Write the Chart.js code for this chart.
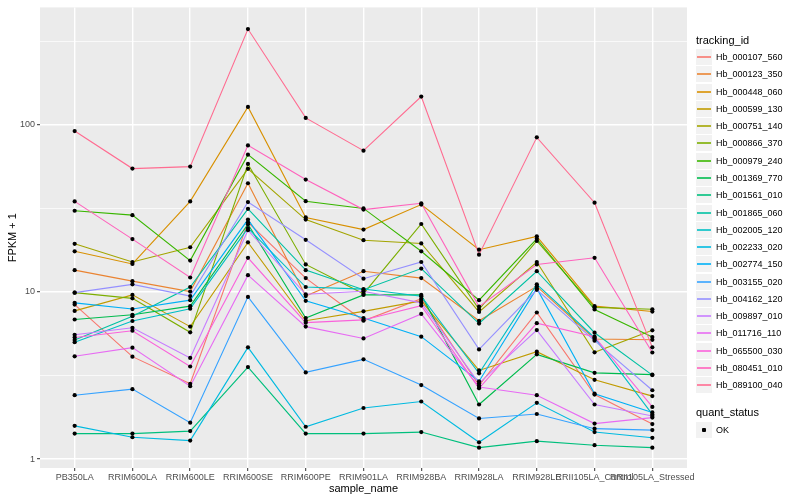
<!DOCTYPE html>
<html>
<head>
<meta charset="utf-8">
<script src="https://cdn.jsdelivr.net/npm/chart.js@4/dist/chart.umd.min.js"></script>
<style>
  body { margin: 0; background: #fff; font-family: "Liberation Sans", Arial, sans-serif; }
  #wrap { position: relative; width: 800px; height: 500px; }
  #legend { position: absolute; left: 696px; top: 0; width: 104px; height: 500px; }
  .ltitle { position: absolute; left: 0; font-size: 11px; color: #000; line-height: 13px; }
  .lrow { position: absolute; left: 0; height: 16px; display: flex; align-items: center; }
  .lkey { position: relative; width: 16px; height: 16px; background: #f2f2f2; margin-right: 4px; }
  .lline { position: absolute; left: 1px; right: 1px; top: 7px; height: 2px; opacity: 0.8; }
  .ldot { position: absolute; left: 6px; top: 6px; width: 4px; height: 4px; background: #000; border-radius: 1px; }
  .ltext { font-size: 9px; color: #000; }
</style>
</head>
<body>
<div id="wrap">
  <canvas id="chart" width="800" height="500"></canvas>
  <div id="legend"></div>
</div>
<script>
// sample names on the x axis
const samples = ['PB350LA', 'RRIM600LA', 'RRIM600LE', 'RRIM600SE', 'RRIM600PE', 'RRIM901LA',
                 'RRIM928BA', 'RRIM928LA', 'RRIM928LE', 'RRII105LA_Control', 'RRII105LA_Stressed'];

// one FPKM + 1 series per tracking id
const hb000107_560 = [8.4, 4.1, 2.82, 26.1, 12.1, 6.72, 9.1, 2.76, 7.53, 2.43, 1.62];
const hb000123_350 = [13.5, 11.6, 10.05, 44.7, 9.45, 13.3, 12.1, 6.72, 10.8, 5.23, 5.17];
const hb000448_060 = [17.5, 14.7, 34.8, 128, 27.9, 23.6, 33.3, 17.9, 21.5, 8.22, 7.63];
const hb000599_130 = [7.7, 9.6, 6.2, 19.8, 6.72, 7.65, 8.84, 3.39, 4.39, 2.98, 2.38];
const hb000751_140 = [19.4, 15.1, 18.5, 54.5, 27.1, 20.4, 19.5, 7.59, 15.1, 4.35, 5.89];
const hb000866_370 = [9.9, 9.15, 5.73, 58.3, 14.6, 9.76, 25.5, 7.87, 20.2, 8.08, 7.87];
const hb000979_240 = [30.6, 28.8, 15.4, 66.3, 34.9, 31.6, 17.5, 8.93, 20.8, 7.85, 5.37];
const hb001369_770 = [6.84, 7.3, 8.22, 25.4, 6.98, 9.6, 9.6, 2.12, 4.23, 3.28, 3.2];
const hb001561_010 = [1.42, 1.42, 1.47, 3.55, 1.42, 1.42, 1.45, 1.17, 1.28, 1.21, 1.17];
const hb001865_060 = [5.16, 7.16, 10.7, 31.4, 13.5, 10.3, 13.8, 6.47, 13.3, 5.7, 3.18];
const hb002005_120 = [5.0, 6.7, 7.94, 24.1, 10.7, 10.4, 9.43, 3.26, 11.1, 5.32, 1.85];
const hb002233_020 = [1.58, 1.35, 1.29, 4.66, 1.56, 2.02, 2.21, 1.26, 2.17, 1.45, 1.34];
const hb002774_150 = [8.6, 7.9, 8.93, 27.1, 8.84, 6.98, 5.4, 2.92, 10.5, 2.46, 1.9];
const hb003155_020 = [2.41, 2.62, 1.65, 9.34, 3.3, 3.95, 2.77, 1.75, 1.86, 1.52, 1.49];
const hb004162_120 = [9.9, 11.1, 9.45, 34.5, 20.5, 12.0, 15.1, 4.53, 10.3, 5.11, 2.58];
const hb009897_010 = [5.54, 6.1, 4.03, 23.4, 9.68, 10.1, 8.6, 2.84, 5.91, 2.12, 1.81];
const hb011716_110 = [4.12, 4.64, 2.73, 12.6, 6.2, 5.27, 7.38, 2.7, 2.41, 1.63, 1.77];
const hb065500_030 = [5.34, 5.86, 3.58, 16.0, 6.55, 6.8, 8.28, 2.65, 6.5, 5.4, 2.05];
const hb080451_010 = [34.8, 20.7, 12.2, 75.3, 47, 31.1, 33.9, 8.17, 14.6, 16.0, 4.34];
const hb089100_040 = [91.7, 54.7, 56.2, 374, 110, 70, 147.5, 16.7, 84.1, 34.2, 4.66];

const trackingIds = ['Hb_000107_560', 'Hb_000123_350', 'Hb_000448_060', 'Hb_000599_130', 'Hb_000751_140',
                     'Hb_000866_370', 'Hb_000979_240', 'Hb_001369_770', 'Hb_001561_010', 'Hb_001865_060',
                     'Hb_002005_120', 'Hb_002233_020', 'Hb_002774_150', 'Hb_003155_020', 'Hb_004162_120',
                     'Hb_009897_010', 'Hb_011716_110', 'Hb_065500_030', 'Hb_080451_010', 'Hb_089100_040'];
const seriesValues = [hb000107_560, hb000123_350, hb000448_060, hb000599_130, hb000751_140,
                      hb000866_370, hb000979_240, hb001369_770, hb001561_010, hb001865_060,
                      hb002005_120, hb002233_020, hb002774_150, hb003155_020, hb004162_120,
                      hb009897_010, hb011716_110, hb065500_030, hb080451_010, hb089100_040];

// y axis ticks (log scale)
const yMajorTicks = [1, 10, 100];
const yMinorTicks = [3.1623, 31.623, 316.23];
const yTickLabels = ['1', '10', '100'];

// ggplot default hue palette for 20 groups
const colors = ['#F8766D', '#EA8331', '#D89000', '#C09B00', '#A3A500', '#7CAE00', '#39B600', '#00BB4E',
                '#00BF7D', '#00C1A3', '#00BFC4', '#00BAE0', '#00B0F6', '#35A2FF', '#9590FF', '#C77CFF',
                '#E76BF3', '#FA62DB', '#FF62BC', '#FF6C91'];

const toPoints = vals => vals.map((v, i) => ({ x: i, y: v }));

const datasets = [];
seriesValues.forEach((vals, i) => {
    datasets.push({
        label: trackingIds[i],
        data: toPoints(vals),
        borderColor: colors[i],
        borderWidth: 1.1,
        pointRadius: 0,
        tension: 0,
        order: 100 - i
    });
});
// points are drawn above every line, as in the original
seriesValues.forEach((vals, i) => {
    datasets.push({
        label: 'OK ' + trackingIds[i],
        data: toPoints(vals),
        showLine: false,
        pointRadius: 2.1,
        pointBackgroundColor: '#000',
        pointBorderColor: '#000',
        pointBorderWidth: 0,
        order: 0
    });
});

// grey panel like ggplot
const panelBg = {
    id: 'panelBg',
    beforeDraw(chart) {
        const a = chart.chartArea;
        const ctx = chart.ctx;
        ctx.save();
        ctx.fillStyle = '#EBEBEB';
        ctx.fillRect(a.left, a.top, a.right - a.left, a.bottom - a.top);
        ctx.restore();
    }
};

const isMajor = v => yMajorTicks.some(t => Math.abs(t - v) < 1e-6);

new Chart(document.getElementById('chart').getContext('2d'), {
    type: 'line',
    data: { datasets: datasets },
    plugins: [panelBg],
    options: {
        responsive: false,
        animation: false,
        layout: { padding: { left: 0, right: 113, top: 5, bottom: 0 } },
        plugins: { legend: { display: false }, tooltip: { enabled: false } },
        scales: {
            x: {
                type: 'linear',
                min: -0.6,
                max: samples.length - 1 + 0.6,
                afterBuildTicks: scale => { scale.ticks = samples.map((s, i) => ({ value: i })); },
                afterFit: scale => { scale.height = 32; },
                border: { display: false },
                grid: { color: '#fff', lineWidth: 1.4, tickColor: '#333', tickLength: 3, tickWidth: 1 },
                ticks: {
                    autoSkip: false, maxRotation: 0, minRotation: 0, padding: 1,
                    color: '#4D4D4D', font: { family: 'Liberation Sans', size: 9 },
                    callback: v => samples[v]
                },
                title: {
                    display: true, text: 'sample_name', color: '#000',
                    font: { family: 'Liberation Sans', size: 11 }, padding: { top: 0, bottom: 4 }
                }
            },
            y: {
                type: 'logarithmic',
                min: 0.884,
                max: 504,
                afterBuildTicks: scale => {
                    scale.ticks = yMajorTicks.concat(yMinorTicks).sort((a, b) => a - b).map(v => ({ value: v }));
                },
                afterFit: scale => { scale.width = 40; },
                border: { display: false },
                grid: {
                    color: '#fff',
                    lineWidth: c => isMajor(c.tick.value) ? 1.4 : 0.7,
                    tickColor: c => isMajor(c.tick.value) ? '#333' : 'rgba(0,0,0,0)',
                    tickLength: 3, tickWidth: 1
                },
                ticks: {
                    padding: 2, color: '#4D4D4D', font: { family: 'Liberation Sans', size: 9 },
                    callback: v => {
                        const k = yMajorTicks.findIndex(t => Math.abs(t - v) < 1e-6);
                        return k >= 0 ? yTickLabels[k] : '';
                    }
                },
                title: {
                    display: true, text: 'FPKM + 1', color: '#000',
                    font: { family: 'Liberation Sans', size: 11 }, padding: { top: 6, bottom: 0 }
                }
            }
        }
    }
});

// legend, drawn as html on the right
const legend = document.getElementById('legend');
let html = '<div class="ltitle" style="top:34px">tracking_id</div>';
trackingIds.forEach((id, i) => {
    const top = Math.round(49 + i * 17.28);
    html += '<div class="lrow" style="top:' + top + 'px"><div class="lkey"><div class="lline" style="background:' +
            colors[i] + '"></div></div><span class="ltext">' + id + '</span></div>';
});
html += '<div class="ltitle" style="top:406px">quant_status</div>';
html += '<div class="lrow" style="top:422px"><div class="lkey"><div class="ldot"></div></div><span class="ltext">OK</span></div>';
legend.innerHTML = html;
</script>
</body>
</html>
